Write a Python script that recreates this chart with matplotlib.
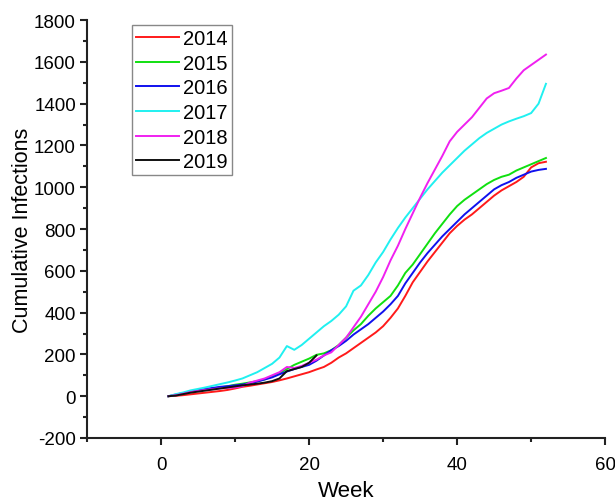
import matplotlib
matplotlib.use('Agg')
import matplotlib.pyplot as plt
from matplotlib.ticker import MultipleLocator

plt.rcParams['font.family'] = ['Liberation Sans', 'DejaVu Sans']
plt.rcParams['axes.unicode_minus'] = False

# weekly cumulative infections
weeks = list(range(1, 53))
y2014 = [0, 2, 5, 9, 13, 17, 21, 25, 30, 37, 45, 50, 56, 62, 68, 76, 85, 95, 105, 115,
         128, 140, 160, 185, 205, 230, 255, 280, 305, 335, 375, 420, 480, 545, 595, 645,
         690, 735, 780, 815, 845, 870, 900, 930, 960, 985, 1005, 1025, 1050, 1095, 1115, 1122]
y2015 = [0, 5, 12, 20, 26, 32, 37, 42, 48, 55, 60, 66, 72, 80, 95, 110, 130, 150, 165, 180,
         198, 205, 220, 245, 280, 315, 345, 385, 420, 450, 480, 530, 590, 630, 680, 730,
         780, 825, 870, 910, 940, 965, 990, 1015, 1035, 1050, 1060, 1080, 1095, 1110, 1125, 1140]
y2016 = [0, 8, 15, 22, 28, 35, 40, 45, 48, 52, 56, 62, 70, 80, 90, 105, 118, 130, 140, 150,
         170, 195, 220, 240, 265, 295, 320, 345, 375, 405, 440, 480, 540, 590, 640, 685,
         725, 765, 800, 835, 870, 900, 930, 960, 990, 1010, 1025, 1045, 1060, 1075, 1083, 1088]
y2017 = [0, 10, 18, 28, 35, 42, 50, 58, 66, 75, 85, 100, 115, 135, 155, 185, 240, 222, 245, 275,
         305, 335, 360, 390, 430, 505, 530, 580, 640, 690, 750, 805, 855, 900, 945, 990,
         1030, 1070, 1105, 1140, 1175, 1205, 1235, 1260, 1280, 1300, 1315, 1328, 1340, 1355, 1400, 1495]
y2018 = [0, 5, 12, 20, 25, 30, 34, 38, 40, 42, 48, 65, 75, 85, 100, 115, 140, 135, 145, 160,
         175, 195, 210, 245, 280, 330, 380, 440, 500, 570, 650, 720, 800, 875, 950, 1020,
         1085, 1150, 1220, 1265, 1300, 1335, 1380, 1425, 1450, 1462, 1475, 1520, 1560, 1585, 1610, 1635]
weeks2019 = list(range(1, 22))
y2019 = [0, 3, 10, 17, 22, 27, 32, 37, 42, 47, 52, 56, 60, 65, 72, 85, 120, 130, 140, 160, 195]

fig = plt.figure(figsize=(6.15, 5.02), dpi=100)
ax = fig.add_axes([0.1415, 0.1255, 0.8425, 0.8325])

ax.plot(weeks, y2014, color='#ff1a1a', lw=1.4, label='2014')
ax.plot(weeks, y2015, color='#10e010', lw=1.4, label='2015')
ax.plot(weeks, y2016, color='#1010ee', lw=1.4, label='2016')
ax.plot(weeks, y2017, color='#20f0f0', lw=1.4, label='2017')
ax.plot(weeks, y2018, color='#f020f0', lw=1.4, label='2018')
ax.plot(weeks2019, y2019, color='#101010', lw=1.4, label='2019')

ax.set_xlim(-10, 60)
ax.set_ylim(-200, 1800)
ax.xaxis.set_major_locator(MultipleLocator(20))
ax.xaxis.set_minor_locator(MultipleLocator(10))
ax.yaxis.set_major_locator(MultipleLocator(200))
ax.yaxis.set_minor_locator(MultipleLocator(100))
ax.set_xticks([0, 20, 40, 60])

for s in ['top', 'right']:
    ax.spines[s].set_visible(False)
for s in ['left', 'bottom']:
    ax.spines[s].set_linewidth(1.5)
    ax.spines[s].set_color('#222222')

ax.tick_params(which='major', length=5, width=1.5, color='#222222', labelsize=13.5, pad=3)
ax.tick_params(which='minor', length=3, width=1.5, color='#222222')
ax.tick_params(axis='x', pad=8)

ax.set_xlabel('Week', fontsize=16, labelpad=5)
ax.set_ylabel('Cumulative Infections', fontsize=15.5, labelpad=1)

leg = ax.legend(loc='upper left', bbox_to_anchor=(0.087, 0.988), fontsize=14.5,
                handlelength=2.15, labelspacing=0.28, handletextpad=0.2,
                borderpad=0.2, borderaxespad=0, fancybox=False, framealpha=1)
leg.get_frame().set_edgecolor('#888888')
leg.get_frame().set_linewidth(1.0)

fig.savefig('out.png', dpi=100)
